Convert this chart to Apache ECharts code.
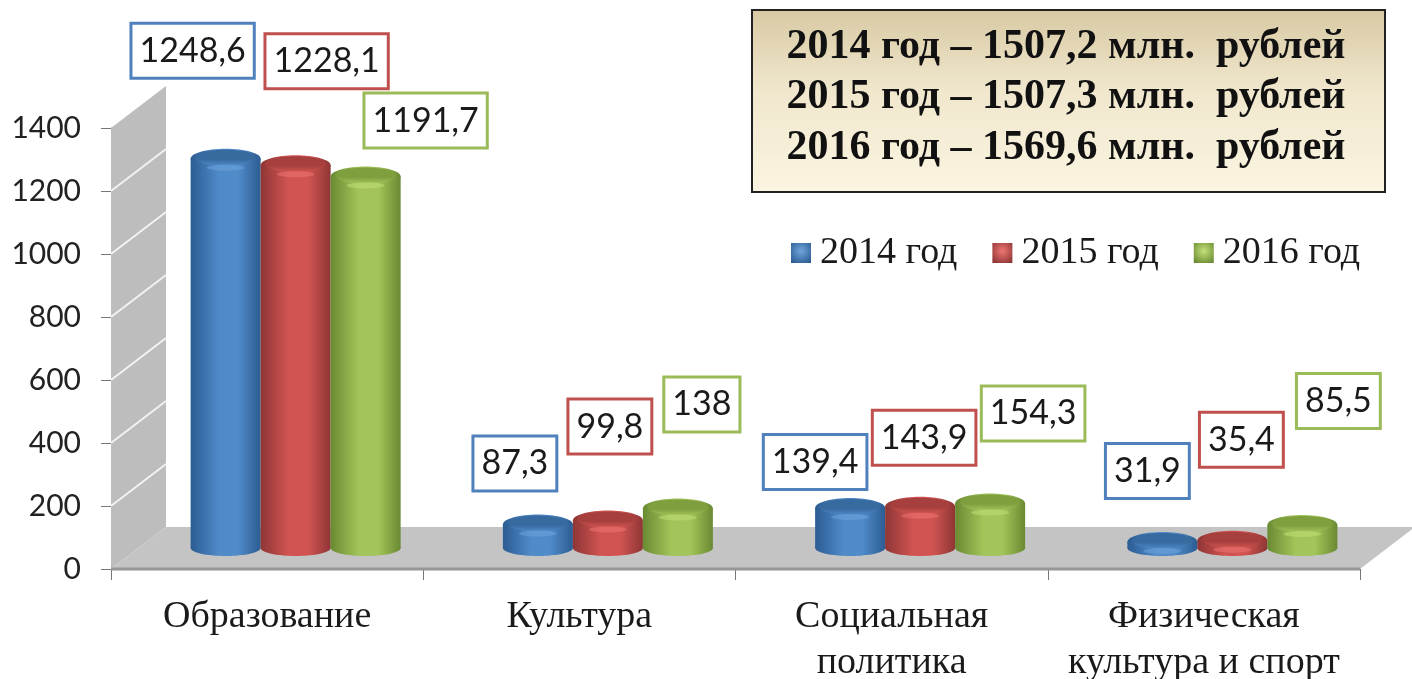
<!DOCTYPE html>
<html>
<head>
<meta charset="utf-8">
<title>Расходы</title>
<style>html,body{margin:0;height:100%;background:#fff}#container{width:1412px;height:679px}</style>
</head>
<body>
<div id="container"></div>
<script src="https://cdn.jsdelivr.net/npm/echarts@6/dist/echarts.min.js"></script>
<script>
var categories = ['Образование', 'Культура', 'Социальная\nполитика', 'Физическая\nкультура и спорт'];
var seriesNames = ['2014 год', '2015 год', '2016 год'];
var values2014 = [1248.6, 87.3, 139.4, 31.9];
var values2015 = [1228.1, 99.8, 143.9, 35.4];
var values2016 = [1191.7, 138, 154.3, 85.5];
var yTicks = [0, 200, 400, 600, 800, 1000, 1200, 1400];
var summaryLines = ['2014 год – 1507,2 млн.  рублей', '2015 год – 1507,3 млн.  рублей', '2016 год – 1569,6 млн.  рублей'];

// смещения подписей от верха столбика
var labelOffsets = [
    [[-33, -104], [-23, -57], [-35, -42], [-15, -67]],
    [[31, -100], [2, -90], [4, -65], [9, -97]],
    [[60, -52], [24, -100], [43, -86], [36, -120]]
];
var palette = [
    {border: '#4f81bd', edge: '#2c5c92', mid: '#4f8ac9', top: '#376a9f', light: '#6fa6dd'},
    {border: '#c0504d', edge: '#8e3635', mid: '#d15452', top: '#a63f3d', light: '#ef7573'},
    {border: '#9bbb59', edge: '#6a8a32', mid: '#a2c45a', top: '#7f9f3f', light: '#c4e27a'}
];
var depthX = 55, depthY = -42;
var barWidth = 70, capRy = 10, baseRy = 8;

function barRender(serieIdx) {
    return function (params, api) {
        var cat = api.value(0), val = api.value(1);
        var front = api.coord([cat, val]);
        var zero = api.coord([cat, 0]);
        var c = palette[serieIdx];
        var cx = front[0] + depthX / 2 + (serieIdx - 1) * barWidth + 1;
        var topY = front[1] + depthY / 2;
        var baseY = zero[1] + depthY / 2;
        var rx = barWidth / 2;
        var side = {type: 'linear', x: 0, y: 0, x2: 1, y2: 0, colorStops: [
            {offset: 0, color: c.edge}, {offset: 0.4, color: c.mid}, {offset: 0.68, color: c.mid}, {offset: 1, color: c.edge}
        ]};
        var cap = {type: 'linear', x: 0, y: 0, x2: 0, y2: 1, colorStops: [
            {offset: 0, color: c.top}, {offset: 0.6, color: c.top}, {offset: 1, color: c.mid}
        ]};
        var off = labelOffsets[serieIdx][cat];
        return {
            type: 'group',
            children: [
                {type: 'ellipse', shape: {cx: cx, cy: baseY, rx: rx, ry: baseRy}, style: {fill: side}},
                {type: 'rect', shape: {x: cx - rx, y: topY + 4, width: barWidth, height: baseY - topY - 4}, style: {fill: side}},
                {type: 'ellipse', shape: {cx: cx, cy: topY + 4, rx: rx, ry: capRy}, style: {fill: side}},
                {type: 'ellipse', shape: {cx: cx, cy: topY + 3, rx: rx - 5, ry: capRy - 2}, style: {fill: cap}},
                {type: 'ellipse', shape: {cx: cx, cy: topY + 13, rx: rx - 16, ry: 3}, style: {fill: c.light, opacity: 0.5}},
                {type: 'text', z2: 50, x: cx + off[0], y: topY + off[1], style: {
                    text: String(val).replace('.', ','),
                    font: '34px Lato',
                    fill: '#1a1a1a',
                    align: 'center',
                    verticalAlign: 'middle',
                    backgroundColor: '#fff',
                    borderColor: c.border,
                    borderWidth: 3,
                    padding: [10, 7, 8, 7]
                }}
            ]
        };
    };
}

function wallRender(params, api) {
    var sys = params.coordSys;
    var left = sys.x, right = sys.x + sys.width;
    var y0 = api.coord([0, 0])[1];
    var yTop = api.coord([0, yTicks[yTicks.length - 1]])[1];
    var children = [
        {type: 'polygon', shape: {points: [[left, y0], [left, yTop], [left + depthX, yTop + depthY], [left + depthX, y0 + depthY]]}, style: {fill: '#bdbdbd'}},
        {type: 'polygon', shape: {points: [[left, y0], [left + depthX, y0 + depthY], [right + depthX, y0 + depthY], [right, y0]]}, style: {fill: '#c4c4c4'}},
        {type: 'line', shape: {x1: left, y1: y0, x2: right, y2: y0}, style: {stroke: '#969696', lineWidth: 3}}
    ];
    yTicks.slice(1, -1).forEach(function (t) {
        var y = api.coord([0, t])[1];
        children.push({type: 'line', shape: {x1: left, y1: y, x2: left + depthX, y2: y + depthY}, style: {stroke: '#f2f2f2', lineWidth: 2}});
    });
    return {type: 'group', children: children};
}

function makeBar(name, vals, i) {
    return {
        name: name,
        type: 'custom',
        clip: false,
        z: 3 + i,
        itemStyle: {color: {type: 'radial', x: 0.5, y: 0.4, r: 0.7, colorStops: [
            {offset: 0, color: palette[i].light}, {offset: 1, color: palette[i].edge}
        ]}},
        encode: {x: 0, y: 1},
        renderItem: barRender(i),
        data: vals.map(function (v, k) { return [k, v]; })
    };
}

var chart = echarts.init(document.getElementById('container'));
chart.setOption({
    animation: false,
    backgroundColor: '#fff',
    grid: {left: 111, right: 52, top: 128, bottom: 110, outerBoundsMode: 'none'},
    legend: {
        data: seriesNames,
        left: 786, top: 229,
        itemWidth: 20, itemHeight: 20, itemGap: 35,
        icon: 'rect',
        textStyle: {fontFamily: 'Liberation Serif', fontSize: 38, color: '#1a1a1a', padding: [4, 0, 0, 4]}
    },
    xAxis: {
        type: 'category',
        data: categories,
        axisLine: {lineStyle: {color: '#888', width: 1}},
        axisTick: {show: true, length: 11, lineStyle: {color: '#777', width: 1}},
        axisLabel: {fontFamily: 'Liberation Serif', fontSize: 38, color: '#1a1a1a', margin: 25, lineHeight: 46, interval: 0}
    },
    yAxis: {
        type: 'value',
        min: 0, max: 1400, interval: 200,
        splitLine: {show: false},
        axisLine: {show: true, lineStyle: {color: '#888', width: 1}},
        axisTick: {show: true, length: 10, lineStyle: {color: '#777', width: 1}},
        axisLabel: {fontFamily: 'Lato', fontSize: 30, color: '#222', margin: 30, formatter: function (v) { return String(v); }}
    },
    graphic: [{
        type: 'rect', z: 1,
        shape: {x: 752, y: 10, width: 633, height: 182},
        style: {
            stroke: '#222', lineWidth: 2,
            fill: {type: 'linear', x: 0, y: 0, x2: 0, y2: 1, colorStops: [
                {offset: 0, color: '#d8c9a3'}, {offset: 0.45, color: '#f0e7cd'}, {offset: 1, color: '#fbf5e1'}
            ]}
        }
    }].concat(summaryLines.map(function (line, i) {
        return {
            type: 'text', z: 2,
            x: 1066, y: 47 + i * 50.5,
            style: {text: line, font: 'bold 42px "Liberation Serif"', fill: '#111', align: 'center', verticalAlign: 'middle'}
        };
    })),
    series: [{
        type: 'custom',
        clip: false,
        z: 1,
        silent: true,
        encode: {x: 0, y: 1},
        renderItem: wallRender,
        data: [[0, 0]]
    }, makeBar(seriesNames[0], values2014, 0), makeBar(seriesNames[1], values2015, 1), makeBar(seriesNames[2], values2016, 2)]
});
</script>
</body>
</html>
